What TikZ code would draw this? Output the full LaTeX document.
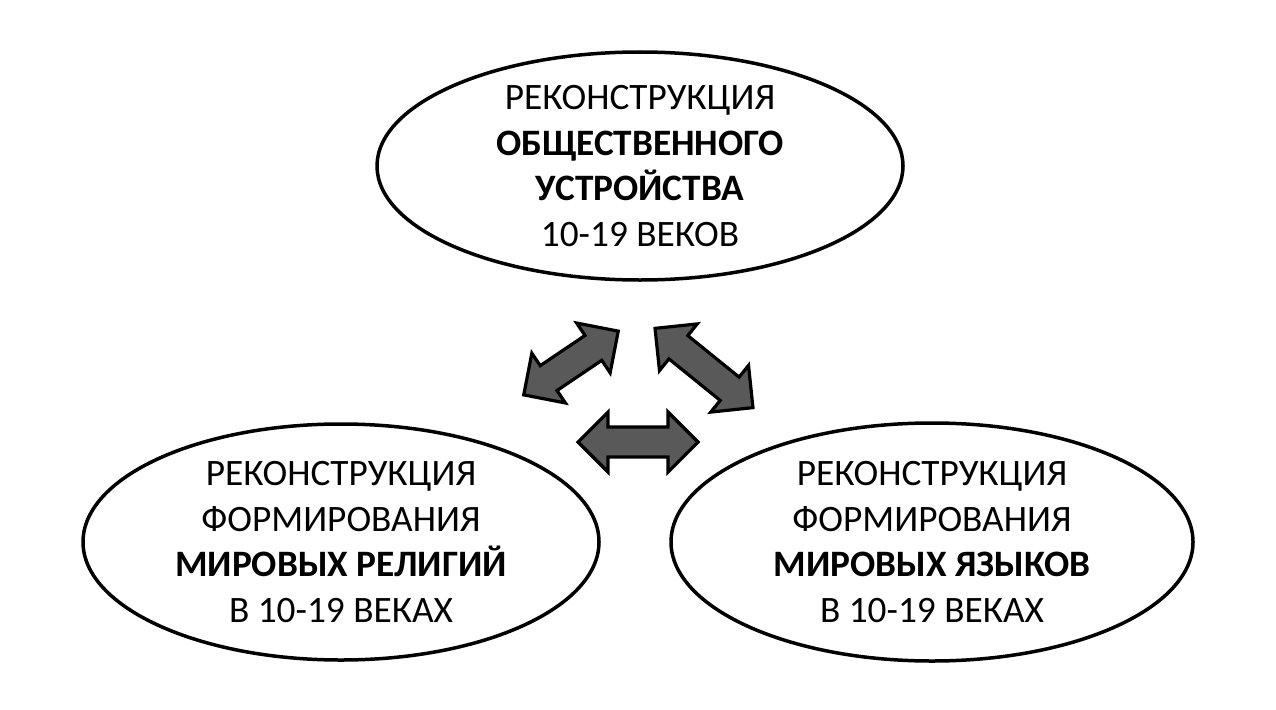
\documentclass[tikz,border=0pt]{standalone}
\usepackage{fontspec}
\setmainfont{Carlito}
\usetikzlibrary{shapes.geometric}
\definecolor{arrowgray}{RGB}{89,89,89}
\newcommand\blockarrowat[3]{% #1 centre coordinate, #2 angle, #3 half length
  \draw[blockarrow, shift={(#1)}, rotate=#2]
    (-#3,0) -- ({-#3+30},-30) -- ({-#3+30},-15) -- ({#3-30},-15) -- ({#3-30},-30)
    -- (#3,0) -- ({#3-30},30) -- ({#3-30},15) -- ({-#3+30},15) -- ({-#3+30},30) -- cycle;}
\begin{document}
\begin{tikzpicture}[x=1pt,y=-1pt,
  oval/.style={draw=black, line width=3.5pt, shape=ellipse, inner sep=0pt},
  lbl/.style={align=center, font=\fontsize{37.3}{45.5}\selectfont, inner sep=0pt},
  blockarrow/.style={fill=arrowgray, draw=black, line width=3.2pt, line join=miter}]
\useasboundingbox (0,0) rectangle (1276,709);
\fill[white] (0,0) rectangle (1276,709);
\node[oval, minimum width=526pt, minimum height=228pt] (top) at (640,166) {};
\node[oval, minimum width=516pt, minimum height=236pt] (left) at (341,542) {};
\node[oval, minimum width=522pt, minimum height=238pt] (right) at (932,542) {};
\node[lbl] (topT) at (top.center) {РЕКОНСТРУКЦИЯ\\\textbf{ОБЩЕСТВЕННОГО}\\\textbf{УСТРОЙСТВА}\\10-19 ВЕКОВ};
\node[lbl] (leftT) at (left.center) {РЕКОНСТРУКЦИЯ\\ФОРМИРОВАНИЯ\\\textbf{МИРОВЫХ РЕЛИГИЙ}\\В 10-19 ВЕКАХ};
\node[lbl] (rightT) at (right.center) {РЕКОНСТРУКЦИЯ\\ФОРМИРОВАНИЯ\\\textbf{МИРОВЫХ ЯЗЫКОВ}\\В 10-19 ВЕКАХ};
\coordinate (aL) at (571,363);
\coordinate (aR) at (704,368);
\coordinate (aH) at (638,442);
\blockarrowat{aL}{34}{57}
\blockarrowat{aR}{-39}{63}
\blockarrowat{aH}{0}{60}
\end{tikzpicture}
\end{document}
